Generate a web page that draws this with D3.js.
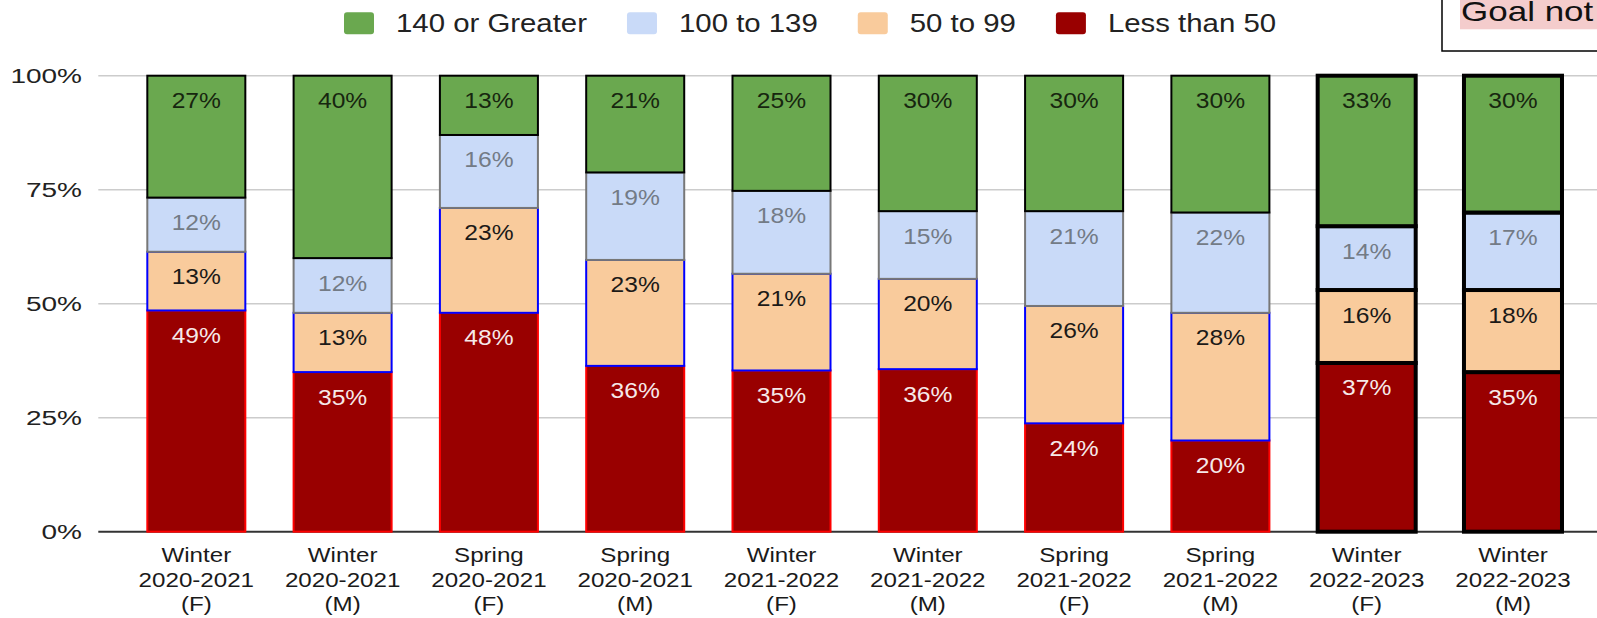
<!DOCTYPE html>
<html>
<head>
<meta charset="utf-8">
<script src="https://cdn.jsdelivr.net/npm/d3@7"></script>
<style>
  html, body { margin: 0; padding: 0; background: #fff; overflow: hidden; }
  svg { display: block; font-family: "Liberation Sans", Arial, sans-serif; }
</style>
</head>
<body>
<svg id="chart" width="1597" height="618"></svg>
<script>
// ---- Data ----
const categories = [
  ["Winter", "2020-2021", "(F)"],
  ["Winter", "2020-2021", "(M)"],
  ["Spring", "2020-2021", "(F)"],
  ["Spring", "2020-2021", "(M)"],
  ["Winter", "2021-2022", "(F)"],
  ["Winter", "2021-2022", "(M)"],
  ["Spring", "2021-2022", "(F)"],
  ["Spring", "2021-2022", "(M)"],
  ["Winter", "2022-2023", "(F)"],
  ["Winter", "2022-2023", "(M)"]
];
const seriesNames = ["Less than 50", "50 to 99", "100 to 139", "140 or Greater"];
const lessThan50   = [49, 35, 48, 36, 35, 36, 24, 20, 37, 35];
const from50to99   = [13, 13, 23, 23, 21, 20, 26, 28, 16, 18];
const from100to139 = [12, 12, 16, 19, 18, 15, 21, 22, 14, 17];
const over140      = [27, 40, 13, 21, 25, 30, 30, 30, 33, 30];
const yTicks = [0, 0.25, 0.5, 0.75, 1];
const legendOrder = ["140 or Greater", "100 to 139", "50 to 99", "Less than 50"];
const boxText = "Goal not met";

// ---- Styles ----
const fills = { "Less than 50": "#990000", "50 to 99": "#f9cb9c", "100 to 139": "#c9daf8", "140 or Greater": "#6aa84f" };
const strokes = { "Less than 50": "#ff0000", "50 to 99": "#0000ff", "100 to 139": "#777777", "140 or Greater": "#000000" };
const labelColors = { "Less than 50": "#f6e9e9", "50 to 99": "#1c1a18", "100 to 139": "#737b86", "140 or Greater": "#17260f" };
const thickBars = new Set([8, 9]);

const rows = categories.map((c, i) => ({
  key: i,
  "Less than 50": lessThan50[i],
  "50 to 99": from50to99[i],
  "100 to 139": from100to139[i],
  "140 or Greater": over140[i]
}));

const svg = d3.select("#chart");

const x = d3.scaleBand().domain(d3.range(categories.length))
  .range([98.3, 1611]).paddingInner(0.33).paddingOuter(0.335);
const y = d3.scaleLinear().domain([0, 1]).range([531.7, 75.7]);

const stack = d3.stack().keys(seriesNames).offset(d3.stackOffsetExpand);
const stacked = stack(rows);

// gridlines
svg.append("g").selectAll("line").data(yTicks.filter(t => t > 0)).join("line")
  .attr("x1", 98.3).attr("x2", 1597)
  .attr("y1", d => y(d)).attr("y2", d => y(d))
  .attr("stroke", "#cccccc").attr("stroke-width", 1.5);
svg.append("line").attr("x1", 98.3).attr("x2", 1597)
  .attr("y1", y(0)).attr("y2", y(0))
  .attr("stroke", "#333333").attr("stroke-width", 2);

// y labels
svg.append("g").selectAll("text").data(yTicks).join("text")
  .attr("transform", d => `translate(82,${y(d)}) scale(1.4,1)`)
  .attr("text-anchor", "end").attr("dy", "0.36em")
  .attr("font-size", 20).attr("fill", "#222")
  .text(d => d3.format(".0%")(d));

// bars
const layers = svg.append("g").selectAll("g").data(stacked).join("g");
layers.selectAll("rect").data(s => s.map(d => ({ d, key: s.key }))).join("rect")
  .attr("x", p => x(p.d.data.key))
  .attr("width", x.bandwidth())
  .attr("y", p => y(p.d[1]))
  .attr("height", p => y(p.d[0]) - y(p.d[1]))
  .attr("fill", p => fills[p.key])
  .attr("stroke", p => thickBars.has(p.d.data.key) ? "#000" : strokes[p.key])
  .attr("stroke-width", p => thickBars.has(p.d.data.key) ? 4 : 2);

// data labels
layers.selectAll("text").data(s => s.map(d => ({ d, key: s.key }))).join("text")
  .attr("transform", p => `translate(${x(p.d.data.key) + x.bandwidth() / 2},${y(p.d[1]) + 32.5}) scale(1.12,1)`)
  .attr("text-anchor", "middle")
  .attr("font-size", 22)
  .attr("fill", p => labelColors[p.key])
  .text(p => p.d.data[p.key] + "%");

// x labels
const xl = svg.append("g").selectAll("g").data(categories.map((c, i) => ({ c, i }))).join("g");
xl.selectAll("text").data(o => o.c.map((t, j) => ({ t, j, i: o.i }))).join("text")
  .attr("transform", o => `translate(${x(o.i) + x.bandwidth() / 2},${562 + o.j * 24.5}) scale(1.15,1)`)
  .attr("text-anchor", "middle").attr("font-size", 21).attr("fill", "#1a1a1a")
  .text(o => o.t);

// legend
const lg = svg.append("g");
let lx = 344;
legendOrder.forEach(name => {
  lg.append("rect").attr("x", lx).attr("y", 12.3).attr("width", 30).attr("height", 22)
    .attr("rx", 3).attr("fill", fills[name]);
  const t = lg.append("text")
    .attr("transform", `translate(${lx + 52},31.7) scale(1.175,1)`)
    .attr("font-size", 25).attr("fill", "#222").text(name);
  const w = t.node().getComputedTextLength() * 1.175;
  lx = lx + 52 + w + 40;
});

// top-right box
svg.append("rect").attr("x", 1442).attr("y", -10).attr("width", 300).attr("height", 61)
  .attr("fill", "#fff").attr("stroke", "#000").attr("stroke-width", 1.5);
svg.append("rect").attr("x", 1460).attr("y", -6).attr("width", 300).attr("height", 35.3)
  .attr("fill", "#f4cccc");
svg.append("text").attr("transform", "translate(1461,21) scale(1.25,1)")
  .attr("font-size", 28).attr("fill", "#111").text(boxText);
</script>
</body>
</html>
